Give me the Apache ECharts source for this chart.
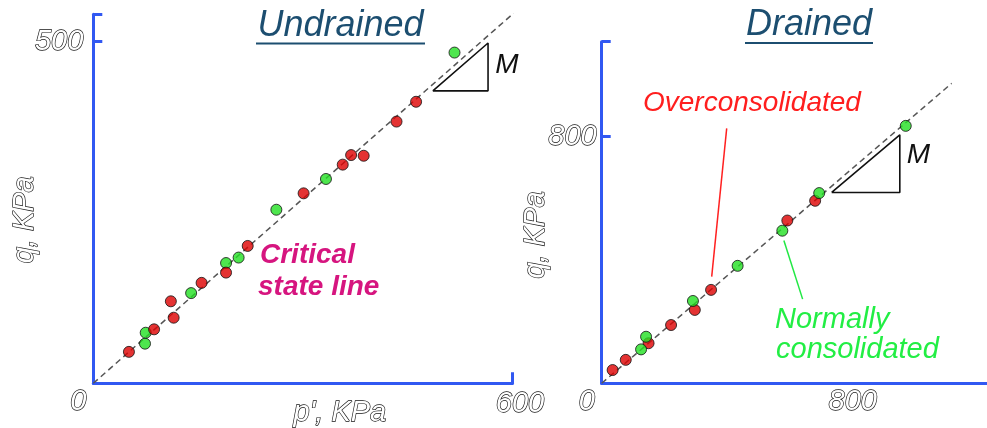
<!DOCTYPE html>
<html>
<head>
<meta charset="utf-8">
<script src="https://cdn.jsdelivr.net/npm/echarts@6/dist/echarts.min.js"></script>
<style>
html,body{margin:0;padding:0;background:#fff;}
#c{width:987px;height:428px;}
</style>
</head>
<body>
<div id="c"></div>
<script>
// ---------- data (p', q in kPa) ----------
const undrainedRedP   = [51, 87, 115, 111, 155, 190, 221, 301, 357, 369, 387, 434, 462];
const undrainedRedQ   = [46, 79, 96, 120, 147, 162, 201, 278, 320, 334, 333, 383, 412];
const undrainedGreenP = [74, 75, 140, 190, 208, 262, 333, 517];
const undrainedGreenQ = [58, 74, 132, 176, 184, 254, 299, 484];

const drainedRedP   = [35, 77, 150, 222, 298, 350, 594, 683];
const drainedRedQ   = [43, 76, 130, 189, 238, 303, 528, 592];
const drainedGreenP = [126, 142, 292, 435, 578, 696, 973];
const drainedGreenQ = [110, 151, 267, 381, 495, 617, 835];

// critical state lines (end points)
const undrainedCslP = [0, 602];
const undrainedCslQ = [0, 542];
const drainedCslP = [0, 1120];
const drainedCslQ = [0, 973];

// slope triangles (p', q)
const undrainedTriP = [486, 565, 565, 486];
const undrainedTriQ = [428, 498, 428, 428];
const drainedTriP = [736, 954, 954, 736];
const drainedTriQ = [619, 806, 619, 619];

// leader lines of the labels (drained plot)
const ocLeaderP = [400, 352];
const ocLeaderQ = [827, 346];
const ncLeaderP = [583, 643];
const ncLeaderQ = [463, 273];

// axis ranges / tick labels
const undrainedXTicks = [0, 600];
const undrainedYTicks = [0, 500];
const drainedXTicks = [0, 800];
const drainedYTicks = [0, 800];
const undrainedYMax = 540;
const drainedYMax = 1108;
const drainedXMax = 1233;

const zip = (a, b) => a.map((v, i) => [v, b[i]]);

const FONT = '"Liberation Sans", Arial, sans-serif';
const AXIS_BLUE = '#3158f2';
const outline = {
  color: '#ffffff',
  textBorderColor: '#111111',
  textBorderWidth: 1.3,
  fontStyle: 'italic',
  fontFamily: FONT,
  fontSize: 29,
  lineHeight: 29
};

function axisBase(extra) {
  return Object.assign({
    type: 'value',
    splitLine: { show: false },
    axisLine: { show: true, onZero: false, lineStyle: { color: AXIS_BLUE, width: 3 } },
    axisTick: { show: true, inside: true, length: 9, lineStyle: { color: AXIS_BLUE, width: 3 } },
    nameMoveOverlap: false
  }, extra);
}

const chart = echarts.init(document.getElementById('c'), null, { renderer: 'canvas' });

const dotStyle = (color) => ({ color: color, borderColor: '#111', borderWidth: 1 });

const option = {
  animation: false,
  backgroundColor: '#ffffff',
  grid: [
    { left: 93.3, top: 14.3, width: 419.2, height: 369, outerBoundsMode: 'none', containLabel: false },
    { left: 601.7, top: 41.7, width: 385.3, height: 341.6, outerBoundsMode: 'none', containLabel: false }
  ],
  xAxis: [
    axisBase({
      gridIndex: 0, min: undrainedXTicks[0], max: undrainedXTicks[1], interval: undrainedXTicks[1],
      name: "p', KPa", nameLocation: 'middle', nameGap: 15,
      nameTextStyle: Object.assign({}, outline, { padding: [0, 0, 0, 74] }),
      axisTick: { show: true, inside: true, length: 11, lineStyle: { color: AXIS_BLUE, width: 3 } },
      axisLabel: {
        margin: 4,
        formatter: v => v === undrainedXTicks[0] ? '{l|' + v + '}' : (v === undrainedXTicks[1] ? '{r|' + v + '}' : ''),
        rich: {
          l: Object.assign({}, outline, { padding: [0, 30, 0, 0] }),
          r: Object.assign({}, outline, { padding: [4, 0, 0, 15] })
        }
      }
    }),
    axisBase({
      gridIndex: 1, min: 0, max: drainedXMax, interval: drainedXTicks[1],
      axisTick: { show: false },
      axisLabel: {
        margin: 4, showMaxLabel: false,
        formatter: v => v === drainedXTicks[0] ? '{l|' + v + '}' : (v === drainedXTicks[1] ? '{c|' + v + '}' : ''),
        rich: {
          l: Object.assign({}, outline, { padding: [0, 30, 0, 0] }),
          c: Object.assign({}, outline, { padding: [0, 0, 0, 2] })
        }
      }
    })
  ],
  yAxis: [
    axisBase({
      gridIndex: 0, min: 0, max: undrainedYMax, interval: undrainedYTicks[1],
      name: 'q, KPa', nameLocation: 'middle', nameGap: 54, nameRotate: 90,
      nameTextStyle: Object.assign({}, outline, { padding: [0, 42, 0, 0] }),
      axisLabel: Object.assign({}, outline, {
        margin: 10,
        formatter: v => v === undrainedYTicks[1] ? String(v) : ''
      })
    }),
    axisBase({
      gridIndex: 1, min: 0, max: drainedYMax, interval: drainedYTicks[1],
      name: 'q, KPa', nameLocation: 'middle', nameGap: 51, nameRotate: 90,
      nameTextStyle: Object.assign({}, outline, { padding: [0, 45, 0, 0] }),
      axisLabel: Object.assign({}, outline, {
        margin: 5,
        formatter: v => v === drainedYTicks[1] ? String(v) : ''
      })
    })
  ],
  series: [
    // ---- undrained ----
    { type: 'line', xAxisIndex: 0, yAxisIndex: 0, data: zip(undrainedCslP, undrainedCslQ), symbol: 'none', silent: true,
      lineStyle: { color: '#555', width: 1.5, type: [6, 4] }, z: 2 },
    { type: 'line', xAxisIndex: 0, yAxisIndex: 0, data: zip(undrainedTriP, undrainedTriQ), symbol: 'none', silent: true,
      lineStyle: { color: '#111', width: 1.6 }, z: 3 },
    { type: 'scatter', xAxisIndex: 0, yAxisIndex: 0, data: zip(undrainedGreenP, undrainedGreenQ), symbolSize: 11,
      itemStyle: dotStyle('#22e022'), z: 4 },
    { type: 'scatter', xAxisIndex: 0, yAxisIndex: 0, data: zip(undrainedRedP, undrainedRedQ), symbolSize: 11,
      itemStyle: dotStyle('#dd0000'), z: 5 },
    // ---- drained ----
    { type: 'line', xAxisIndex: 1, yAxisIndex: 1, data: zip(drainedCslP, drainedCslQ), symbol: 'none', silent: true,
      lineStyle: { color: '#555', width: 1.5, type: [6, 4] }, z: 2 },
    { type: 'line', xAxisIndex: 1, yAxisIndex: 1, data: zip(drainedTriP, drainedTriQ), symbol: 'none', silent: true,
      lineStyle: { color: '#111', width: 1.6 }, z: 3 },
    { type: 'line', xAxisIndex: 1, yAxisIndex: 1, data: zip(ocLeaderP, ocLeaderQ), symbol: 'none', silent: true,
      lineStyle: { color: '#ff2020', width: 1.5 }, z: 3 },
    { type: 'line', xAxisIndex: 1, yAxisIndex: 1, data: zip(ncLeaderP, ncLeaderQ), symbol: 'none', silent: true,
      lineStyle: { color: '#22e844', width: 1.5 }, z: 3 },
    { type: 'scatter', xAxisIndex: 1, yAxisIndex: 1, data: zip(drainedRedP, drainedRedQ), symbolSize: 11,
      itemStyle: dotStyle('#dd0000'), z: 4 },
    { type: 'scatter', xAxisIndex: 1, yAxisIndex: 1, data: zip(drainedGreenP, drainedGreenQ), symbolSize: 11,
      itemStyle: dotStyle('#22e022'), z: 5 }
  ],
  graphic: [
    // titles
    { type: 'text', x: 340.5, y: 25.8, style: { text: 'Undrained', fill: '#1c4e70', font: 'italic 36px ' + FONT, textAlign: 'center', textVerticalAlign: 'middle' } },
    { type: 'line', shape: { x1: 256, y1: 43.5, x2: 425, y2: 43.5 }, style: { stroke: '#1c4e70', lineWidth: 2 } },
    { type: 'text', x: 809, y: 24.8, style: { text: 'Drained', fill: '#1c4e70', font: 'italic 36px ' + FONT, textAlign: 'center', textVerticalAlign: 'middle' } },
    { type: 'line', shape: { x1: 745, y1: 43, x2: 873, y2: 43 }, style: { stroke: '#1c4e70', lineWidth: 2 } },
    // annotations
    { type: 'text', x: 260, y: 255.5, style: { text: 'Critical', fill: '#d6157f', font: 'italic bold 28px ' + FONT, textAlign: 'left', textVerticalAlign: 'middle' } },
    { type: 'text', x: 258, y: 287, style: { text: 'state line', fill: '#d6157f', font: 'italic bold 28px ' + FONT, textAlign: 'left', textVerticalAlign: 'middle' } },
    { type: 'text', x: 643, y: 103.6, style: { text: 'Overconsolidated', fill: '#ff1e1e', font: 'italic 28px ' + FONT, textAlign: 'left', textVerticalAlign: 'middle' } },
    { type: 'text', x: 775, y: 320, style: { text: 'Normally', fill: '#22ee44', font: 'italic 29px ' + FONT, textAlign: 'left', textVerticalAlign: 'middle' } },
    { type: 'text', x: 776, y: 349.5, style: { text: 'consolidated', fill: '#22ee44', font: 'italic 29px ' + FONT, textAlign: 'left', textVerticalAlign: 'middle' } },
    { type: 'text', x: 507, y: 65, style: { text: 'M', fill: '#111', font: 'italic 28px ' + FONT, textAlign: 'center', textVerticalAlign: 'middle' } },
    { type: 'text', x: 918.5, y: 155.5, style: { text: 'M', fill: '#111', font: 'italic 28px ' + FONT, textAlign: 'center', textVerticalAlign: 'middle' } }
  ]
};
chart.setOption(option);
</script>
</body>
</html>
